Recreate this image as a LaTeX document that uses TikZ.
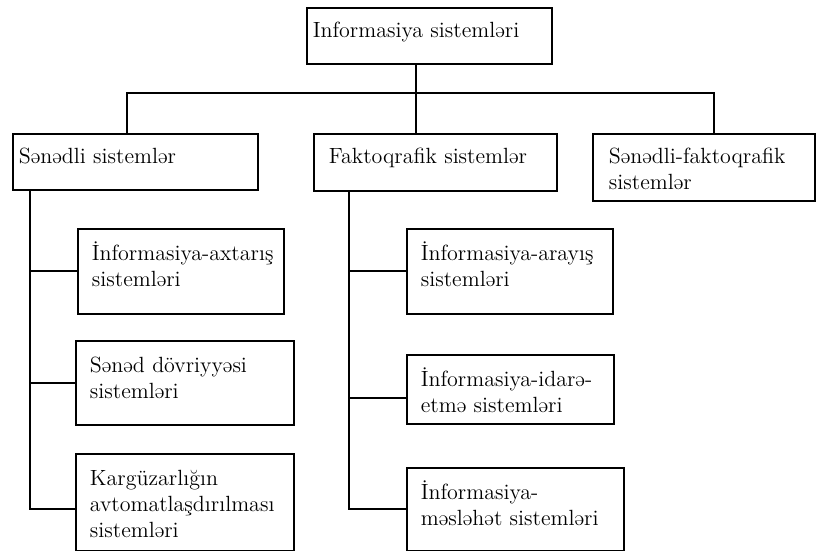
\documentclass[tikz,border=0pt]{standalone}
\usepackage{tikz}
\usepackage{xcolor}

\newcommand\blokfont{\fontsize{11}{13}\selectfont\hyphenpenalty=10000\relax\exhyphenpenalty=10000\relax}

\begin{document}
\begin{tikzpicture}[x=0.5pt,y=-0.5pt,
		blok/.style={draw,line width=0.9pt,anchor=north west,align=left,
			inner ysep=6pt,text height=9pt,font=\blokfont},
		alt/.style={blok,inner xsep=7pt,inner ysep=7pt},
		xett/.style={line width=0.9pt}]
	\useasboundingbox (0,0) rectangle (816,551);

	% yuxari seviyye
	\node[blok,inner xsep=3pt,text width=116.5pt,text depth=7pt] (info) at (306,7) {Informasiya sistemləri};

	\node[blok,inner xsep=3pt,text width=116.5pt,text depth=7pt] (senedli) at (12,133) {Sənədli sistemlər};
	\node[blok,inner xsep=7.5pt,text width=106.5pt,text depth=7.5pt] (fakto) at (313,133) {Faktoqrafik sistemlər};
	\node[blok,inner xsep=8pt,text width=95pt,text depth=12.5pt] (sf) at (592,133) {Sənədli-faktoqrafik\\sistemlər};

	% senedli sistemler
	\node[alt,text width=89pt,text depth=19.5pt] (ax) at (77,228) {İnformasiya-axtarış\\sistemləri};
	\node[alt,text width=95pt,text depth=19pt] (sd) at (75,340) {Sənəd dövriyyəsi\\sistemləri};
	\node[alt,text width=95pt,text depth=25.5pt] (kg) at (75,453) {Kargüzarlığın\\avtomatlaşdırılması\\sistemləri};

	% faktoqrafik sistemler
	\node[alt,text width=89pt,text depth=19.5pt] (ar) at (406,228) {İnformasiya-arayış\\sistemləri};
	\node[alt,text width=89.5pt,text depth=11.5pt] (ie) at (406,354) {İnformasiya-idarə-\\etmə sistemləri};
	\node[alt,text width=94.5pt,text depth=18.5pt] (ms) at (406,467) {İnformasiya-\\məsləhət sistemləri};

	% xettler
	\coordinate (busL) at (127,93);
	\coordinate (busR) at (714,93);
	\coordinate (kok) at (416,93);
	\coordinate (solx) at (30,0);
	\coordinate (ortax) at (349,0);
	\coordinate (kgq) at ([yshift=-3.5pt]kg.west);
	\coordinate (ieq) at ([yshift=-4.5pt]ie.west);

	\draw[xett] (kok |- info.south) -- (kok |- fakto.north);
	\draw[xett] (busL |- senedli.north) -- (busL) -- (busR) -- (busR |- sf.north);
	\draw[xett] (solx |- senedli.south) -- (solx |- kgq) -- (kgq);
	\draw[xett] (ortax |- fakto.south) -- (ortax |- ms.west) -- (ms.west);
	\foreach \n in {ax,sd}
		\draw[xett] (solx |- \n.west) -- (\n.west);
	\foreach \n in {ar.west,ieq}
		\draw[xett] (ortax |- \n) -- (\n);
\end{tikzpicture}
\end{document}
